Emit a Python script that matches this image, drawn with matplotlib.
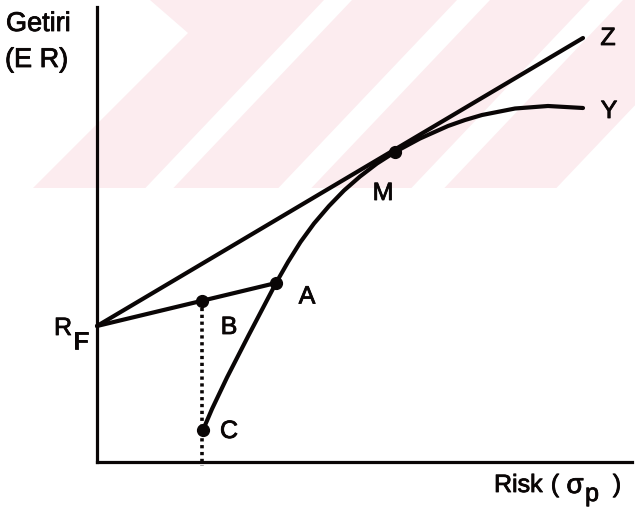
import matplotlib.pyplot as plt
import matplotlib.patheffects as pe
from matplotlib.patches import Polygon

# risk-free rate and capital market line end point (Z)
rf_return = 2.72
z_risk, z_return = 9.72, 8.48

# efficient frontier, C -> A -> M -> Y
frontier_risk = [2.12, 2.30, 2.60, 3.03, 3.58, 3.82, 4.07, 4.34, 4.64, 4.94,
                 5.26, 5.60, 5.96, 6.46, 7.02, 7.36, 7.70, 8.36, 9.02, 9.72]
frontier_return = [0.64, 1.06, 1.69, 2.53, 3.58, 4.00, 4.40, 4.77, 5.12, 5.43,
                   5.71, 5.97, 6.20, 6.47, 6.72, 6.84, 6.94, 7.07, 7.12, 7.08]

# named portfolios
point_names = ["A", "B", "C", "M"]
point_risk = [3.58, 2.10, 2.12, 5.96]
point_return = [3.58, 3.22, 0.64, 6.20]

ink = "#0a0606"
pink = "#fcecef"
font = "Liberation Sans"
bolden = [pe.withStroke(linewidth=0.6, foreground=ink)]

fig = plt.figure(figsize=(6.35, 5.14), dpi=100)

# background layer in pixel units for the striped band at the top
bg = fig.add_axes([0, 0, 1, 1])
bg.set_xlim(0, 635)
bg.set_ylim(514, 0)
bg.axis("off")
band = [(150, 0), (760, 0), (760, 188), (33, 188), (188, 33)]
bg.add_patch(Polygon(band, closed=True, fc=pink, ec="none"))
k = 0.95
for c0, c1 in [(324, 352), (457, 490), (590, 623), (735, 900)]:
    stripe = [(c0, 0), (c1, 0), (c1 - k * 188, 188), (c0 - k * 188, 188)]
    bg.add_patch(Polygon(stripe, closed=True, fc="white", ec="none"))

ax = fig.add_axes([97 / 635, 52 / 514, 535 / 635, 455 / 514])
ax.patch.set_alpha(0)
ax.set_xlim(0, 10.7)
ax.set_ylim(0, 9.1)
for side in ["top", "right"]:
    ax.spines[side].set_visible(False)
for side in ["left", "bottom"]:
    ax.spines[side].set_linewidth(2.3)
    ax.spines[side].set_color(ink)
ax.set_xticks([])
ax.set_yticks([])

lw = 3.0
# capital market line RF -> Z
ax.plot([0, z_risk], [rf_return, z_return], color=ink, lw=lw,
        solid_capstyle="round", clip_on=False)
# efficient frontier
ax.plot(frontier_risk, frontier_return, color=ink, lw=lw,
        solid_capstyle="round", solid_joinstyle="round", clip_on=False)
# RF -> A combination line
ax.plot([0, point_risk[0]], [rf_return, point_return[0]], color=ink, lw=lw,
        solid_capstyle="round", clip_on=False)
# B and C share the same risk
ax.plot([point_risk[1], point_risk[1]], [point_return[1], -0.07], color=ink,
        lw=2.6, dashes=(0.9, 1.0), dash_capstyle="butt", clip_on=False)
ax.plot(point_risk, point_return, "o", color=ink, ms=8.5, clip_on=False)

tkw = dict(fontsize=18, color=ink, family=font, ha="center", va="center",
           path_effects=bolden)
label_offsets = {"A": (0.62, -0.27), "B": (0.54, -0.52), "C": (0.52, -0.02),
                 "M": (-0.24, -0.82)}
for name, x, y in zip(point_names, point_risk, point_return):
    dx, dy = label_offsets[name]
    ax.text(x + dx, y + dy, name, **tkw)
ax.text(z_risk + 0.5, z_return, "Z", **tkw)
ax.text(frontier_risk[-1] + 0.52, frontier_return[-1] - 0.06, "Y", **tkw)

# axis titles and RF in pixel positions
bkw = dict(fontsize=18, color=ink, family=font, va="center",
           path_effects=bolden)
bg.text(6, 24, "Getiri", ha="left", **dict(bkw, fontsize=19.5))
bg.text(5, 60, "(E R)", ha="left", **dict(bkw, fontsize=19.5))
bg.text(63, 328, "R", ha="center", **bkw)
bg.text(81, 342, "F", ha="center", **bkw)
bg.text(494, 485, "Risk", ha="left", **bkw)
bg.text(555, 485, "(", ha="center", **bkw)
bg.text(575, 486, "σ", ha="center", **dict(bkw, fontsize=20))
bg.text(592, 494, "p", ha="center", **bkw)
bg.text(617, 485, ")", ha="center", **bkw)

fig.savefig("out.png", dpi=100)
